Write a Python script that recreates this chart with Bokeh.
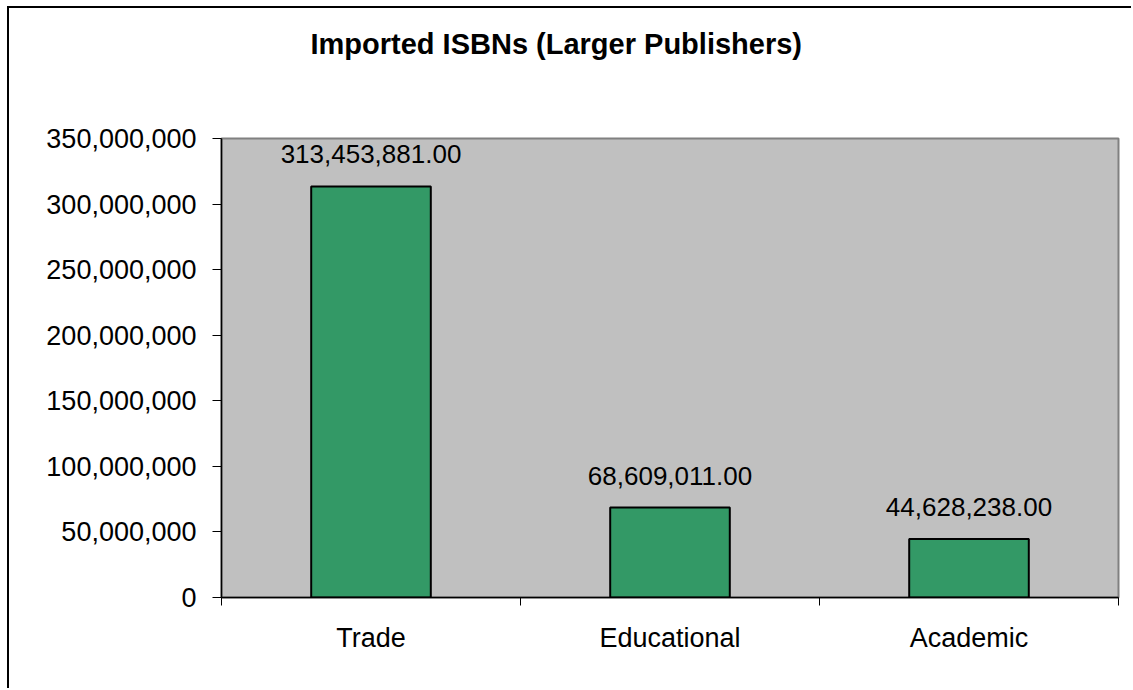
from bokeh.plotting import figure
from bokeh.models import ColumnDataSource, Range1d, FixedTicker, NumeralTickFormatter, LabelSet, Title
from bokeh.core.properties import value
from bokeh.embed import file_html
from bokeh.resources import INLINE

categories = ["Trade", "Educational", "Academic"]
values = [313453881, 68609011, 44628238]
y_ticks = [0, 50000000, 100000000, 150000000, 200000000, 250000000, 300000000, 350000000]
title_text = "Imported ISBNs (Larger Publishers)"

FONT = "Liberation Sans"

xs = [i + 0.5 for i in range(len(categories))]
labels = [f"{v:,.2f}" for v in values]
src = ColumnDataSource(dict(x=xs, top=values, label=labels))

p = figure(width=1124, height=682, output_backend="svg", toolbar_location=None,
           x_range=Range1d(0, len(categories)), y_range=Range1d(0, y_ticks[-1]),
           min_border_left=212, min_border_right=15, min_border_top=130, min_border_bottom=93,
           background_fill_color="#C0C0C0", border_fill_color="white",
           outline_line_color="#808080", outline_line_width=2)
p.margin = (6, 0, 0, 7)
p.styles = {"border-left": "2px solid #000", "border-top": "2px solid #000"}

p.xgrid.visible = False
p.ygrid.visible = False

p.vbar(x="x", top="top", width=0.4, bottom=0, source=src,
       fill_color="#339966", line_color="black", line_width=2)

p.add_layout(LabelSet(x="x", y="top", text="label", source=src,
                      text_font=value(FONT), text_font_size="26px", text_color="black",
                      text_align="center", text_baseline="alphabetic", y_offset=23))

# x axis: labels at category centres, ticks at category boundaries
xa = p.xaxis[0]
xa.ticker = FixedTicker(ticks=xs, minor_ticks=list(range(len(categories) + 1)))
xa.major_label_overrides = {x: c for x, c in zip(xs, categories)}
xa.major_tick_line_color = None
xa.minor_tick_line_color = "black"
xa.minor_tick_in = 0
xa.minor_tick_out = 8
xa.axis_line_color = "black"
xa.axis_line_width = 1.5
xa.major_label_text_font = FONT
xa.major_label_text_font_size = "27px"
xa.major_label_text_color = "black"
xa.major_label_standoff = 17

ya = p.yaxis[0]
ya.ticker = FixedTicker(ticks=y_ticks, minor_ticks=[])
ya.formatter = NumeralTickFormatter(format="0,0")
ya.major_tick_in = 0
ya.major_tick_out = 9
ya.major_tick_line_color = "black"
ya.axis_line_color = "black"
ya.axis_line_width = 1.5
ya.major_label_text_font = FONT
ya.major_label_text_font_size = "27px"
ya.major_label_text_color = "black"
ya.major_label_standoff = 16

# empty spacer between the frame and the title
p.add_layout(Title(text=" ", text_font_size="1px", standoff=76), "above")

p.title.text = title_text
p.title.text_font = FONT
p.title.text_font_style = "bold"
p.title.text_font_size = "29px"
p.title.text_color = "black"
p.title.align = "left"
p.title.offset = 89
p.title.vertical_align = "bottom"
p.title.standoff = 0

open("out.html", "w").write(file_html(p, INLINE))
